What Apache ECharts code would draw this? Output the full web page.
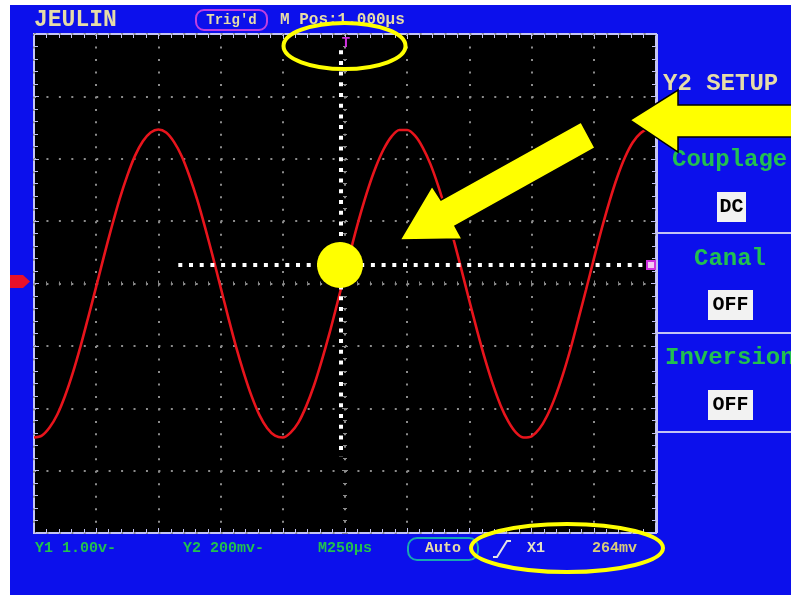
<!DOCTYPE html>
<html>
<head>
<meta charset="utf-8">
<title>JEULIN - Y2 SETUP</title>
<script src="https://cdn.jsdelivr.net/npm/echarts@6/dist/echarts.min.js"></script>
<style>
  html, body { margin: 0; padding: 0; background: #fff; }
  #scope { width: 791px; height: 595px; }
</style>
</head>
<body>
<div id="scope"></div>
<script>
// time axis, microseconds (H 250us/div, 10 div), one sample every 1/8 div
const timeUs = [
  -1250, -1218.75, -1187.5, -1156.25, -1125, -1093.75, -1062.5, -1031.25,
  -1000, -968.75, -937.5, -906.25, -875, -843.75, -812.5, -781.25,
  -750, -718.75, -687.5, -656.25, -625, -593.75, -562.5, -531.25,
  -500, -468.75, -437.5, -406.25, -375, -343.75, -312.5, -281.25,
  -250, -218.75, -187.5, -156.25, -125, -93.75, -62.5, -31.25,
  0, 31.25, 62.5, 93.75, 125, 156.25, 187.5, 218.75,
  250, 281.25, 312.5, 343.75, 375, 406.25, 437.5, 468.75,
  500, 531.25, 562.5, 593.75, 625, 656.25, 687.5, 718.75,
  750, 781.25, 812.5, 843.75, 875, 906.25, 937.5, 968.75,
  1000, 1031.25, 1062.5, 1093.75, 1125, 1156.25, 1187.5, 1218.75, 1250
]
// voie Y1, volts (1.00V/div)
const y1Volts = [
  -2.47, -2.44, -2.31, -2.10, -1.80, -1.43, -1.00, -0.53,
  -0.05, 0.44, 0.91, 1.35, 1.73, 2.05, 2.28, 2.42,
  2.47, 2.42, 2.27, 2.04, 1.72, 1.34, 0.90, 0.43,
  -0.06, -0.55, -1.02, -1.44, -1.81, -2.11, -2.32, -2.44,
  -2.47, -2.39, -2.23, -1.97, -1.64, -1.24, -0.80, -0.32,
  0.17, 0.66, 1.12, 1.53, 1.88, 2.16, 2.36, 2.46,
  2.46, 2.37, 2.18, 1.91, 1.56, 1.15, 0.69, 0.21,
  -0.28, -0.76, -1.21, -1.61, -1.95, -2.21, -2.39, -2.47,
  -2.45, -2.33, -2.12, -1.83, -1.47, -1.05, -0.58, -0.10,
  0.39, 0.87, 1.31, 1.70, 2.02, 2.26, 2.41, 2.47, 2.43
]
// trigger cursor lines
const triggerTime = -18
const triggerLevel = 0.30
const cursorSpan = [3.74, -2.78]      // volts, vertical cursor
const levelSpan = [-670, 1210]        // us, horizontal cursor

const mono = '"Liberation Mono", "DejaVu Sans Mono", monospace'
const beige = '#e6dca8'
const green = '#22c050'
const frame = '#c4c4f4'
const yellow = '#ffff00'

const chart = echarts.init(document.getElementById('scope'))

// ticked axes: on the screen border, or on the centre lines (onZero)
function tickAxis(position, isX, opts) {
  return {
    type: 'value',
    position: position,
    min: isX ? -1250 : -4,
    max: isX ? 1250 : 4,
    interval: isX ? 250 : 1,
    axisLine: { show: false, onZero: opts.onZero },
    axisLabel: { show: false },
    axisTick: { show: true, inside: opts.inside, length: opts.len, lineStyle: { color: opts.color, width: 1 } },
    minorTick: { show: true, splitNumber: 5, length: opts.len - 1, lineStyle: { color: opts.color, width: 1 } },
    splitLine: { show: false }
  }
}
const border = { onZero: false, inside: true, len: 5, color: frame }
const centreIn = { onZero: true, inside: true, len: 3, color: '#8a8a8a' }
const centreOut = { onZero: true, inside: false, len: 3, color: '#8a8a8a' }

const xMain = tickAxis('bottom', true, border)
xMain.splitLine = { show: true, lineStyle: { color: '#8c8c8c', width: 2, type: [2, 10.48] } }
const yMain = tickAxis('left', false, border)
yMain.splitLine = { show: true, lineStyle: { color: '#8c8c8c', width: 2, type: [2, 10.44] } }

const option = {
  backgroundColor: '#0c10ec',
  animation: false,
  grid: {
    left: 34, top: 34, width: 622, height: 499,
    show: true, backgroundColor: '#000', borderColor: frame, borderWidth: 2
  },
  xAxis: [xMain, tickAxis('top', true, border), tickAxis('bottom', true, centreIn), tickAxis('bottom', true, centreOut)],
  yAxis: [yMain, tickAxis('right', false, border), tickAxis('left', false, centreIn), tickAxis('left', false, centreOut)],
  series: [{
    name: 'Y1',
    type: 'line',
    data: timeUs.map((t, i) => [t, y1Volts[i]]),
    smooth: 0.3,
    symbol: 'none',
    lineStyle: { color: '#e8141c', width: 2.6 },
    markLine: {
      silent: true,
      symbol: ['none', 'none'],
      label: { show: false },
      lineStyle: { color: '#fff', width: 4, type: [4, 6.7] },
      data: [
        [{ coord: [triggerTime, cursorSpan[0]] }, { coord: [triggerTime, cursorSpan[1]] }],
        [{ coord: [levelSpan[0], triggerLevel] }, { coord: [levelSpan[1], triggerLevel] }]
      ]
    }
  }],
  graphic: [
    // white page margin
    { type: 'rect', z: -5, shape: { x: 0, y: 0, width: 10, height: 595 }, style: { fill: '#fff' } },
    { type: 'rect', z: -5, shape: { x: 0, y: 0, width: 791, height: 5 }, style: { fill: '#fff' } },

    // top bar
    { type: 'text', z: 10, style: { text: 'JEULIN', x: 34, y: 20, fill: beige, font: 'bold 23px ' + mono, textVerticalAlign: 'middle' } },
    { type: 'rect', z: 10, shape: { x: 196, y: 10, width: 71, height: 20, r: 8 }, style: { fill: 'none', stroke: '#c040e0', lineWidth: 2 } },
    { type: 'text', z: 10, style: { text: "Trig'd", x: 231.5, y: 20, fill: beige, font: 'bold 14px ' + mono, textAlign: 'center', textVerticalAlign: 'middle' } },
    { type: 'text', z: 10, style: { text: 'M Pos:1.000µs', x: 280, y: 20, fill: beige, font: 'bold 16px ' + mono, textVerticalAlign: 'middle' } },
    { type: 'text', z: 10, style: { text: 'T', x: 346, y: 43, fill: '#d030e0', font: 'bold 14px ' + mono, textAlign: 'center', textVerticalAlign: 'middle' } },

    // channel 1 ground marker
    { type: 'polygon', z: 10, shape: { points: [[10, 275], [23, 275], [30, 281.5], [23, 288], [10, 288]] }, style: { fill: '#e8102a' } },
    // trigger level marker
    { type: 'rect', z: 10, shape: { x: 647, y: 261, width: 8, height: 8 }, style: { fill: '#f4c8f4', stroke: '#d030e0', lineWidth: 2 } },

    // right menu
    { type: 'line', z: 10, shape: { x1: 657, y1: 34, x2: 657, y2: 533 }, style: { stroke: frame, lineWidth: 2 } },
    { type: 'line', z: 10, shape: { x1: 657, y1: 118, x2: 791, y2: 118 }, style: { stroke: frame, lineWidth: 2 } },
    { type: 'line', z: 10, shape: { x1: 657, y1: 233, x2: 791, y2: 233 }, style: { stroke: frame, lineWidth: 2 } },
    { type: 'line', z: 10, shape: { x1: 657, y1: 333, x2: 791, y2: 333 }, style: { stroke: frame, lineWidth: 2 } },
    { type: 'line', z: 10, shape: { x1: 657, y1: 432, x2: 791, y2: 432 }, style: { stroke: frame, lineWidth: 2 } },
    { type: 'text', z: 10, style: { text: 'Y2 SETUP', x: 663, y: 84, fill: beige, font: 'bold 24px ' + mono, textVerticalAlign: 'middle' } },
    { type: 'text', z: 10, style: { text: 'Couplage', x: 672, y: 160, fill: green, font: 'bold 24px ' + mono, textVerticalAlign: 'middle' } },
    { type: 'rect', z: 10, shape: { x: 717, y: 192, width: 29, height: 30 }, style: { fill: '#f2f2f2' } },
    { type: 'text', z: 11, style: { text: 'DC', x: 731.5, y: 207, fill: '#000', font: 'bold 20px ' + mono, textAlign: 'center', textVerticalAlign: 'middle' } },
    { type: 'text', z: 10, style: { text: 'Canal', x: 730, y: 259, fill: green, font: 'bold 24px ' + mono, textAlign: 'center', textVerticalAlign: 'middle' } },
    { type: 'rect', z: 10, shape: { x: 708, y: 290, width: 45, height: 30 }, style: { fill: '#f2f2f2' } },
    { type: 'text', z: 11, style: { text: 'OFF', x: 730.5, y: 305, fill: '#000', font: 'bold 20px ' + mono, textAlign: 'center', textVerticalAlign: 'middle' } },
    { type: 'text', z: 10, style: { text: 'Inversion', x: 665, y: 358, fill: green, font: 'bold 24px ' + mono, textVerticalAlign: 'middle' } },
    { type: 'rect', z: 10, shape: { x: 708, y: 390, width: 45, height: 30 }, style: { fill: '#f2f2f2' } },
    { type: 'text', z: 11, style: { text: 'OFF', x: 730.5, y: 405, fill: '#000', font: 'bold 20px ' + mono, textAlign: 'center', textVerticalAlign: 'middle' } },

    // bottom status bar
    { type: 'text', z: 10, style: { text: 'Y1 1.00v-', x: 35, y: 548, fill: green, font: 'bold 15px ' + mono, textVerticalAlign: 'middle' } },
    { type: 'text', z: 10, style: { text: 'Y2 200mv-', x: 183, y: 548, fill: green, font: 'bold 15px ' + mono, textVerticalAlign: 'middle' } },
    { type: 'text', z: 10, style: { text: 'M250µs', x: 318, y: 548, fill: green, font: 'bold 15px ' + mono, textVerticalAlign: 'middle' } },
    { type: 'rect', z: 10, shape: { x: 408, y: 538, width: 70, height: 22, r: 9 }, style: { fill: 'none', stroke: '#18a8b0', lineWidth: 2 } },
    { type: 'text', z: 10, style: { text: 'Auto', x: 443, y: 548, fill: beige, font: 'bold 15px ' + mono, textAlign: 'center', textVerticalAlign: 'middle' } },
    { type: 'polyline', z: 10, shape: { points: [[493, 557], [497, 557], [507, 541], [511, 541]] }, style: { stroke: '#e4e4e4', lineWidth: 2, fill: 'none' } },
    { type: 'text', z: 10, style: { text: 'X1', x: 527, y: 548, fill: '#e4e0c4', font: 'bold 15px ' + mono, textVerticalAlign: 'middle' } },
    { type: 'text', z: 10, style: { text: '264mv', x: 592, y: 548, fill: '#d8cc7a', font: 'bold 15px ' + mono, textVerticalAlign: 'middle' } },

    // annotations
    { type: 'circle', z: 100, shape: { cx: 340, cy: 265, r: 23 }, style: { fill: yellow } },
    { type: 'polygon', z: 100, shape: { points: [[400, 240], [432, 186], [441, 200], [581, 122], [595, 148], [455, 226], [462, 239]] }, style: { fill: yellow, stroke: '#000', lineWidth: 1.5 } },
    { type: 'polygon', z: 100, shape: { points: [[630, 120], [678, 90], [678, 105], [795, 105], [795, 137], [678, 137], [678, 152]] }, style: { fill: yellow, stroke: '#000', lineWidth: 1.5 } },
    { type: 'ellipse', z: 100, shape: { cx: 344.5, cy: 46, rx: 61, ry: 23 }, style: { fill: 'none', stroke: yellow, lineWidth: 4 } },
    { type: 'ellipse', z: 100, shape: { cx: 567, cy: 548, rx: 96, ry: 24 }, style: { fill: 'none', stroke: yellow, lineWidth: 4 } }
  ]
}

chart.setOption(option)
</script>
</body>
</html>
